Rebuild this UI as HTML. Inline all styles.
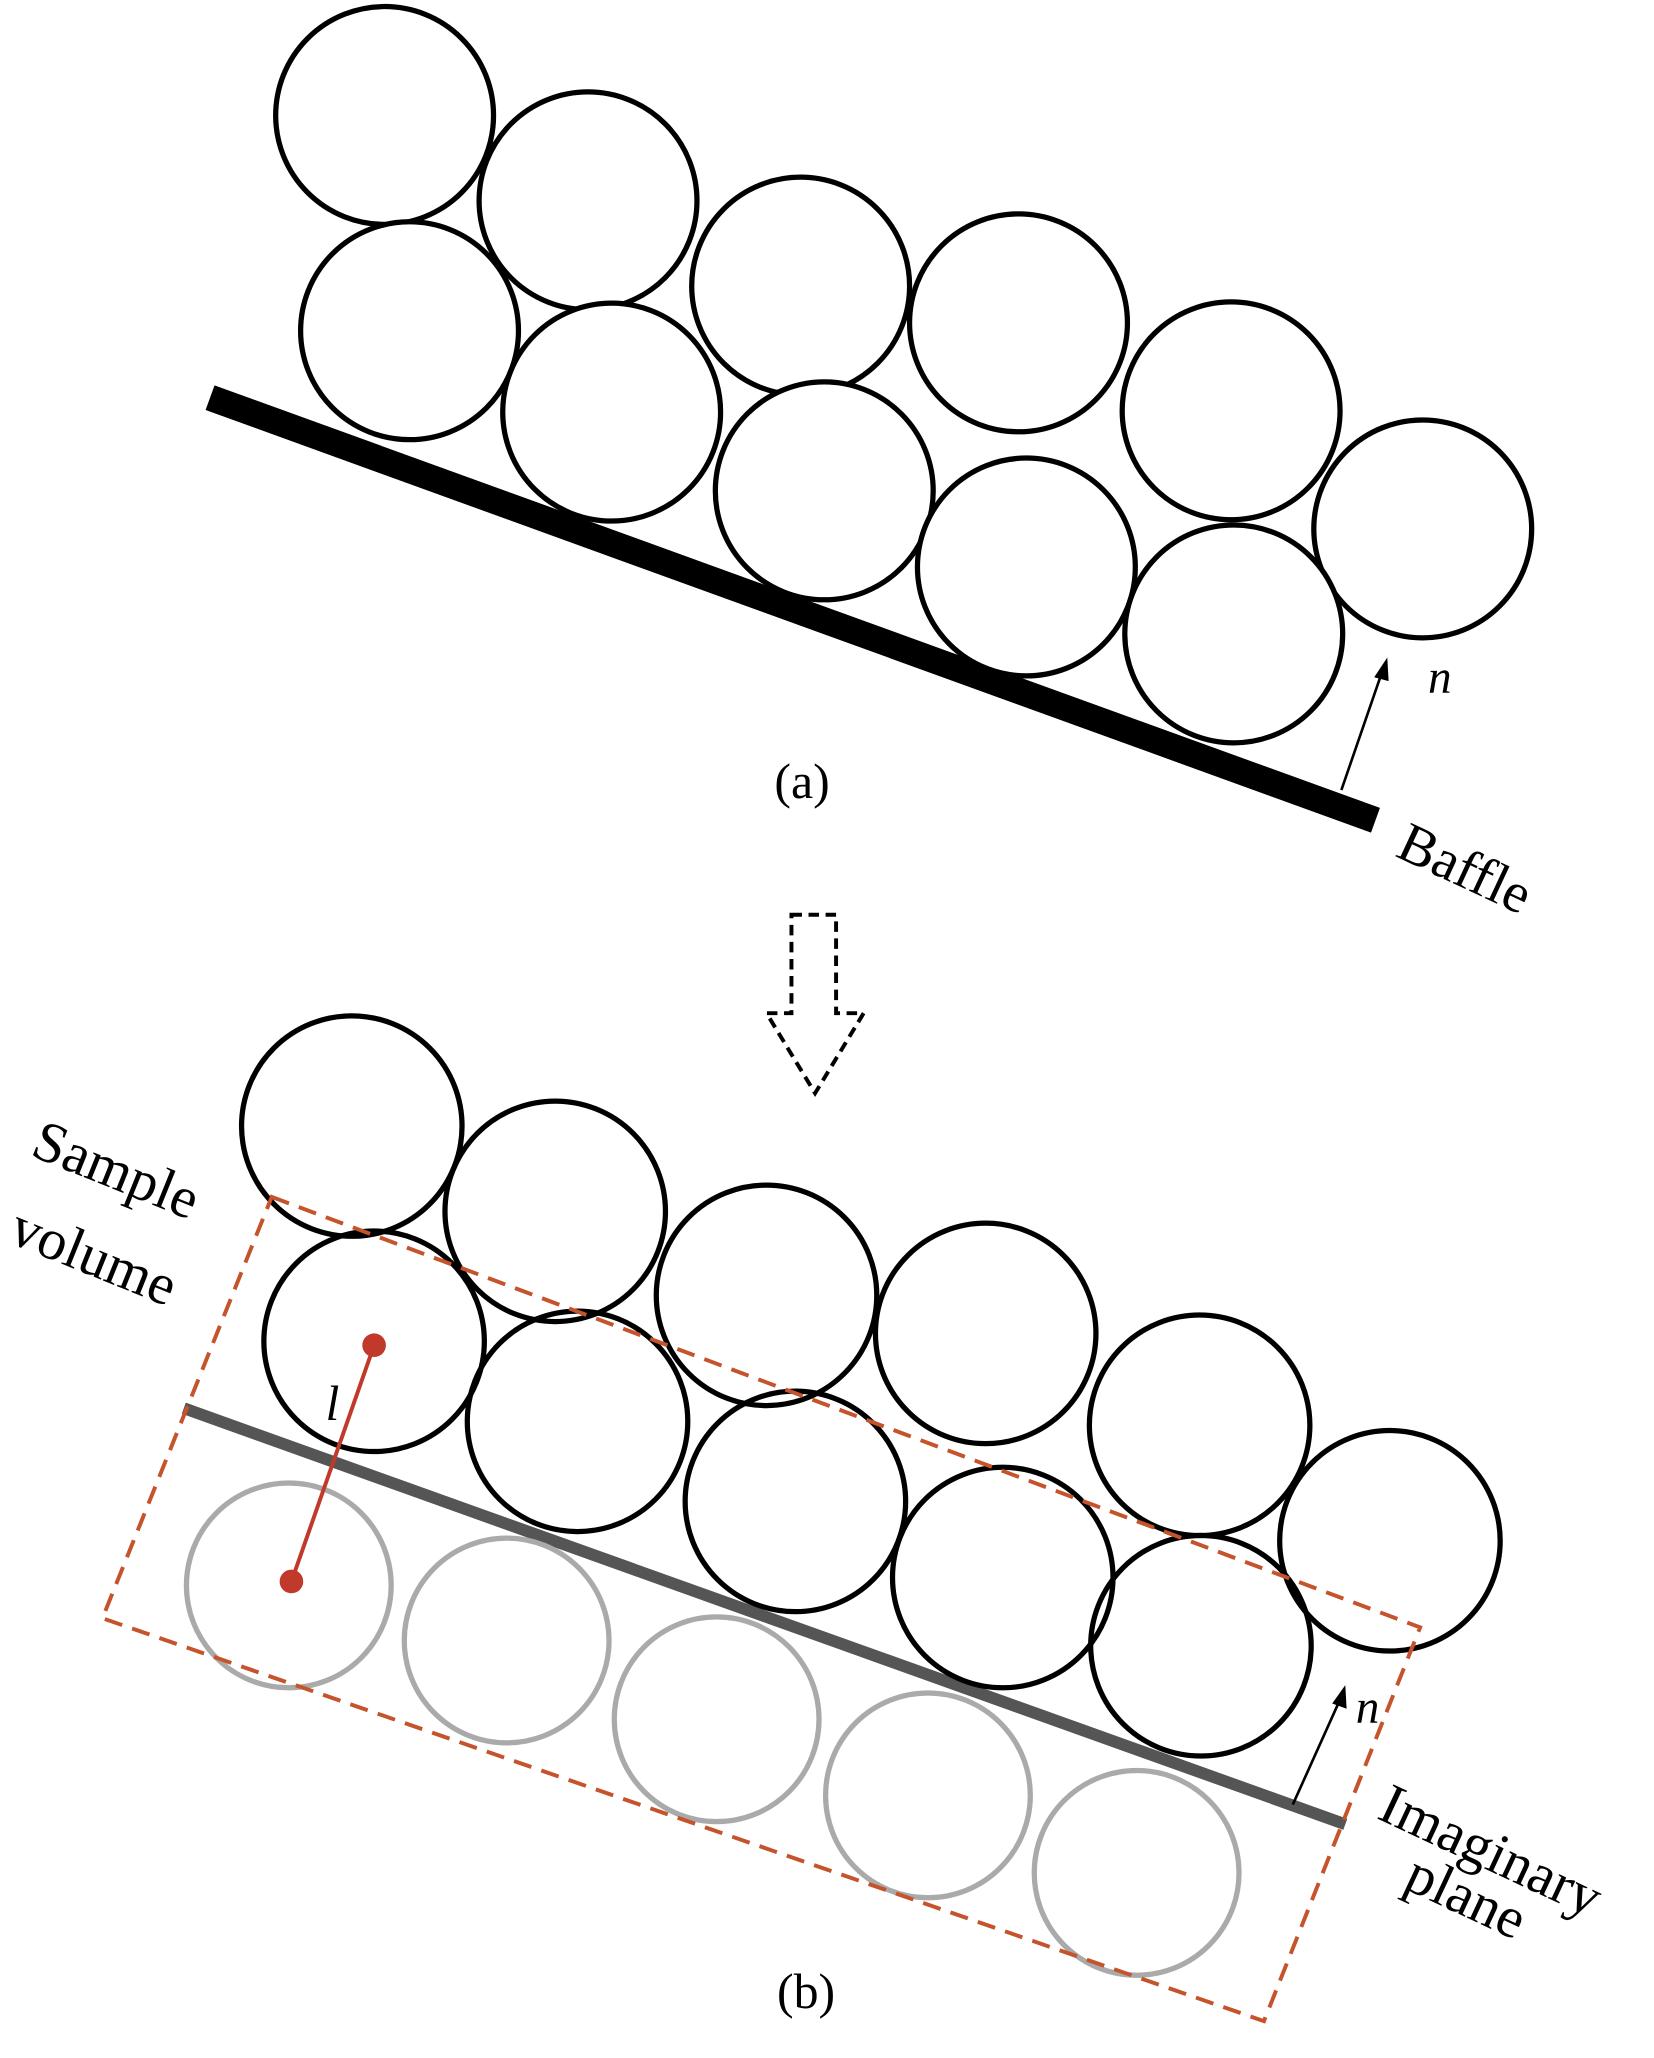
<!DOCTYPE html>
<html><head><meta charset="utf-8"><style>html,body{margin:0;padding:0;background:#fff}svg{display:block}</style></head>
<body>
<svg width="1654" height="2058" viewBox="0 0 1240 1543" xmlns="http://www.w3.org/2000/svg" font-family="Liberation Serif, serif">
<rect width="1240" height="1543" fill="#fff"/>
<g transform="scale(0.984)">
<!-- (a) -->
<line x1="160" y1="303" x2="1048" y2="625" stroke="#000" stroke-width="20"/>
<g fill="#fff" stroke="#000" stroke-width="4">
<circle cx="293" cy="88" r="83"/>
<circle cx="448" cy="153" r="83"/>
<circle cx="312" cy="252" r="83"/>
<circle cx="610" cy="218" r="83"/>
<circle cx="466" cy="314" r="83"/>
<circle cx="776" cy="246" r="83"/>
<circle cx="628" cy="374" r="83"/>
<circle cx="938" cy="313" r="83"/>
<circle cx="782" cy="432" r="83"/>
<circle cx="1084" cy="403" r="83"/>
<circle cx="940" cy="483" r="83"/>
</g>
<line x1="1022" y1="602" x2="1053" y2="512" stroke="#000" stroke-width="2"/>
<polygon points="1057,501 1047,516 1058,519" fill="#000"/>
<text x="1088" y="528" font-size="36" font-style="italic">n</text>
<text x="590" y="608" font-size="38">(a)</text>
<text x="1062" y="652" font-size="43" transform="rotate(25 1062 652)">Baffle</text>
<!-- arrow -->
<polygon points="603,697 637,697 637,772 658,772 621,833 584,772 603,772" fill="none" stroke="#000" stroke-width="3" stroke-dasharray="8,5"/>
<!-- (b) -->
<line x1="140" y1="1073" x2="1025" y2="1390" stroke="#555" stroke-width="9"/>
<g fill="none" stroke="#aaa" stroke-width="4">
<circle cx="220" cy="1208" r="78"/>
<circle cx="386" cy="1250" r="78"/>
<circle cx="546" cy="1310" r="78"/>
<circle cx="707" cy="1368" r="78"/>
<circle cx="866" cy="1427" r="78"/>
</g>
<g fill="none" stroke="#000" stroke-width="4">
<circle cx="268" cy="858" r="84"/>
<circle cx="423" cy="923" r="84"/>
<circle cx="285" cy="1022" r="84"/>
<circle cx="584" cy="987" r="84"/>
<circle cx="440" cy="1083" r="84"/>
<circle cx="751" cy="1016" r="84"/>
<circle cx="606" cy="1144" r="84"/>
<circle cx="914" cy="1086" r="84"/>
<circle cx="764" cy="1202" r="84"/>
<circle cx="1059" cy="1174" r="84"/>
<circle cx="915" cy="1254" r="84"/>
</g>
<polygon points="207,912 1082,1240 963,1540 78,1233" fill="none" stroke="#c5532b" stroke-width="3" stroke-dasharray="14,8"/>
<line x1="285" y1="1025" x2="222" y2="1205" stroke="#c0392b" stroke-width="3"/>
<circle cx="285" cy="1025" r="9" fill="#c0392b"/>
<circle cx="222" cy="1205" r="9" fill="#c0392b"/>
<text x="248" y="1082" font-size="38" font-style="italic">l</text>
<line x1="985" y1="1375" x2="1021" y2="1295" stroke="#000" stroke-width="2"/>
<polygon points="1025,1284 1015,1298 1026,1302" fill="#000"/>
<text x="1033" y="1313" font-size="36" font-style="italic">n</text>
<text x="1048" y="1385" font-size="44" transform="rotate(25 1048 1385)">Imaginary</text>
<text x="1068" y="1438" font-size="44" transform="rotate(25 1068 1438)">plane</text>
<text x="22" y="880" font-size="44" transform="rotate(22 22 880)">Sample</text>
<text x="5" y="946" font-size="44" transform="rotate(22 5 946)">volume</text>
<text x="592" y="1530" font-size="38">(b)</text>
</g>
</svg>
</body></html>
